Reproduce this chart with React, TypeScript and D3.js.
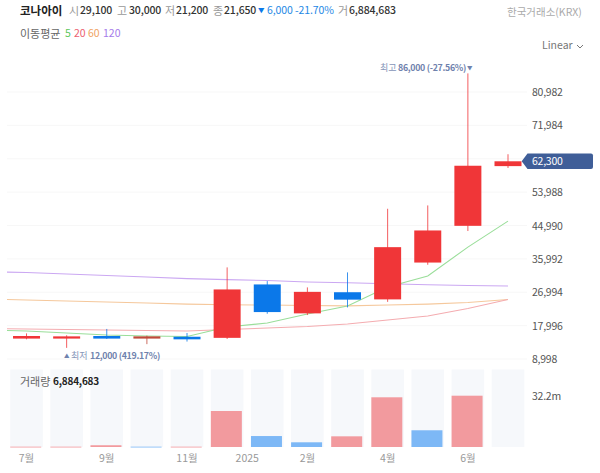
import { useRef, useEffect } from 'react';
import * as d3 from 'd3';

const months = ['2024-06', '2024-07', '2024-08', '2024-09', '2024-10', '2024-11', '2024-12', '2025-01', '2025-02', '2025-03', '2025-04', '2025-05', '2025-06', '2025-07'];
const candleMonths = months.slice(1);

const opens = [14500, 14500, 15200, 14500, 15000, 14700, 29100, 21300, 27000, 25070, 35000, 44900, 61000];
const highs = [15900, 15400, 17100, 15300, 16000, 33700, 30000, 28300, 32350, 49500, 50400, 86000, 64200];
const lows = [14300, 12000, 14400, 13000, 13700, 14400, 21200, 20850, 22900, 24400, 34400, 43500, 60500];
const closes = [15200, 15100, 14500, 15100, 14300, 27750, 21650, 27100, 25000, 39150, 43650, 61100, 62300];
const volumes = [0.2, 0.2, 1.1, 0.2, 0.2, 22.6, 6.88, 2.95, 6.7, 31.2, 10.5, 32.2, 0];
const volumeUp = [true, true, true, false, true, true, false, false, true, true, false, true, true];

const ma5 = [16800, 16540, 16000, 15460, 15200, 15060, 17620, 18700, 21120, 23280, 28400, 31360, 39170, 46170];
const ma20 = [17200, 17080, 16950, 16810, 16680, 16540, 16950, 17350, 17750, 18430, 19500, 20580, 22600, 25030];
const ma60 = [25160, 24900, 24620, 24350, 24090, 23800, 23630, 23550, 23410, 23330, 23550, 23800, 24220, 25030];
const ma120 = [32570, 32300, 31900, 31490, 31090, 30680, 30400, 30150, 29740, 29550, 29280, 29010, 28800, 28660];

const priceTicks = [8998, 17996, 26994, 35992, 44990, 53988, 62986, 71984, 80982];
const monthTicks = [
  { month: '2024-07', label: '7월', shift: 0 },
  { month: '2024-09', label: '9월', shift: 0 },
  { month: '2024-11', label: '11월', shift: 0 },
  { month: '2025-01', label: '2025', shift: -20 },
  { month: '2025-02', label: '2월', shift: 0 },
  { month: '2025-04', label: '4월', shift: 0 },
  { month: '2025-06', label: '6월', shift: 0 },
];

const UP = '#f03638';
const DOWN = '#0b78e9';
const FONT = '"Noto Sans CJK KR", "Noto Sans", sans-serif';

export default function App() {
  const svgRef = useRef<SVGSVGElement>(null);

  useEffect(() => {
    const root = d3.select(svgRef.current!);
    root.selectAll('*').remove();

    const x = d3.scalePoint<string>().domain(months).range([-13.6, 508]);
    const y = d3.scaleLinear().domain([8998, 80982]).range([359, 92]);
    const yVol = d3.scaleLinear().domain([0, 32.2]).range([447, 395.7]);

    const text = (tx: number, ty: number, s: string, color: string, size = 11, weight = 400, anchor = 'start', spacing = 0) =>
      root.append('text').attr('x', tx).attr('y', ty - 0.5).attr('fill', color).attr('font-size', size)
        .attr('font-weight', weight).attr('text-anchor', anchor).attr('font-family', FONT)
        .attr('letter-spacing', spacing).attr('dominant-baseline', 'central').text(s);

    root.append('defs').append('clipPath').attr('id', 'plot').append('rect')
      .attr('x', 7).attr('y', 60).attr('width', 520).attr('height', 300);

    // Grid
    priceTicks.forEach(t => {
      root.append('line').attr('x1', 7).attr('x2', 527).attr('y1', y(t)).attr('y2', y(t))
        .attr('stroke', '#f7f7f7').attr('stroke-width', 1);
      if (t !== 62986) text(532, y(t), d3.format(',')(t), '#555', 10.5, 400, 'start', -0.25);
    });

    // Moving averages
    const line = d3.line<number>().x((_, i) => x(months[i])!).y(d => y(d));
    const plot = root.append('g').attr('clip-path', 'url(#plot)');
    [
      { values: ma120, color: '#cba8f2' },
      { values: ma60, color: '#f5c89c' },
      { values: ma20, color: '#f4acb0' },
      { values: ma5, color: '#9ade9a' },
    ].forEach(s => {
      plot.append('path').attr('d', line(s.values)).attr('fill', 'none').attr('stroke', s.color).attr('stroke-width', 1.1);
    });

    // Candles
    candleMonths.forEach((m, i) => {
      const cx = x(m)!;
      // October prints darker in the source
      const color = m === '2024-10' ? '#c04b3c' : closes[i] >= opens[i] ? UP : DOWN;
      root.append('line').attr('x1', cx).attr('x2', cx).attr('y1', y(highs[i])).attr('y2', y(lows[i]))
        .attr('stroke', color).attr('stroke-width', 1).attr('stroke-opacity', 0.8);
      const top = y(Math.max(opens[i], closes[i]));
      const bottom = y(Math.min(opens[i], closes[i]));
      root.append('rect').attr('x', cx - 13.5).attr('y', top).attr('width', 27).attr('height', bottom - top).attr('fill', color);
    });

    // Volume
    candleMonths.forEach((m, i) => {
      const cx = x(m)!;
      root.append('rect').attr('x', cx - 16.3).attr('y', 369.5).attr('width', 32.6).attr('height', 77.5).attr('fill', '#f6f8fb');
      if (volumes[i] > 0) {
        root.append('rect').attr('x', cx - 16.3).attr('y', yVol(volumes[i])).attr('width', 31)
          .attr('height', Math.max(447 - yVol(volumes[i]), 0.8))
          .attr('fill', volumeUp[i] ? '#f29a9e' : '#7db8f6');
      }
    });
    text(532, yVol(32.2), '32.2m', '#555', 10.5, 400, 'start', -0.25);
    text(20, 381, '거래량', '#666', 11);
    text(53, 381, '6,884,683', '#222', 10, 700, 'start', -0.2);

    // Month labels
    monthTicks.forEach(t => {
      text(x(t.month)! + t.shift, 457.5, t.label, '#999', 10.5, 400, 'middle');
    });

    // Header
    text(20, 10, '코나아이', '#222', 11.5, 700);
    [
      { tx: 69, label: '시', value: '29,100', vx: 80 },
      { tx: 117, label: '고', value: '30,000', vx: 129 },
      { tx: 165, label: '저', value: '21,200', vx: 176 },
      { tx: 213, label: '종', value: '21,650', vx: 224 },
      { tx: 338, label: '거', value: '6,884,683', vx: 349 },
    ].forEach(h => {
      text(h.tx, 10, h.label, '#999', 11);
      text(h.vx, 10, h.value, '#333', 10.5, 500, 'start', -0.15);
    });
    text(258, 10, '▼', DOWN, 6.5);
    text(267, 10, '6,000 -21.70%', '#1e88e5', 10.5, 400, 'start', -0.1);
    text(507, 12, '한국거래소(KRX)', '#aaa', 10.5);
    text(20, 33, '이동평균', '#666', 11);
    text(65, 33, '5', '#5cc85c', 10.5);
    text(74, 33, '20', '#ec6070', 10.5);
    text(88, 33, '60', '#f0a262', 10.5);
    text(103, 33, '120', '#a57bea', 10.5);

    // Scale selector
    text(542, 45, 'Linear', '#777', 10.5);
    root.append('path').attr('d', 'M577 45 L580 48 L583 45').attr('fill', 'none').attr('stroke', '#777').attr('stroke-width', 1);

    // High / low callouts
    text(380, 68, '최고', '#8595b8', 9);
    text(398, 68, '86,000 (-27.56%)', '#6f82ad', 8.8, 700, 'start', -0.3);
    text(467, 68, '▼', '#6f82ad', 5.5);
    text(64, 356, '▲', '#6f82ad', 5.5);
    text(71, 356, '최저', '#8595b8', 9);
    text(90, 356, '12,000 (419.17%)', '#6f82ad', 8.8, 700, 'start', -0.3);

    // Current price tag
    const py = y(closes[closes.length - 1]);
    root.append('path')
      .attr('d', `M521.7 ${py} L527.5 ${py - 7.8} H591 Q593 ${py - 7.8} 593 ${py - 5.8} V${py + 5.8} Q593 ${py + 7.8} 591 ${py + 7.8} H527.5 Z`)
      .attr('fill', '#3f5e98');
    text(532, py, '62,300', '#fff', 10.5, 400, 'start', -0.25);
  }, []);

  return <svg ref={svgRef} width={600} height={473} style={{ position: 'absolute', left: 0, top: 0, background: '#fff' }} />;
}
